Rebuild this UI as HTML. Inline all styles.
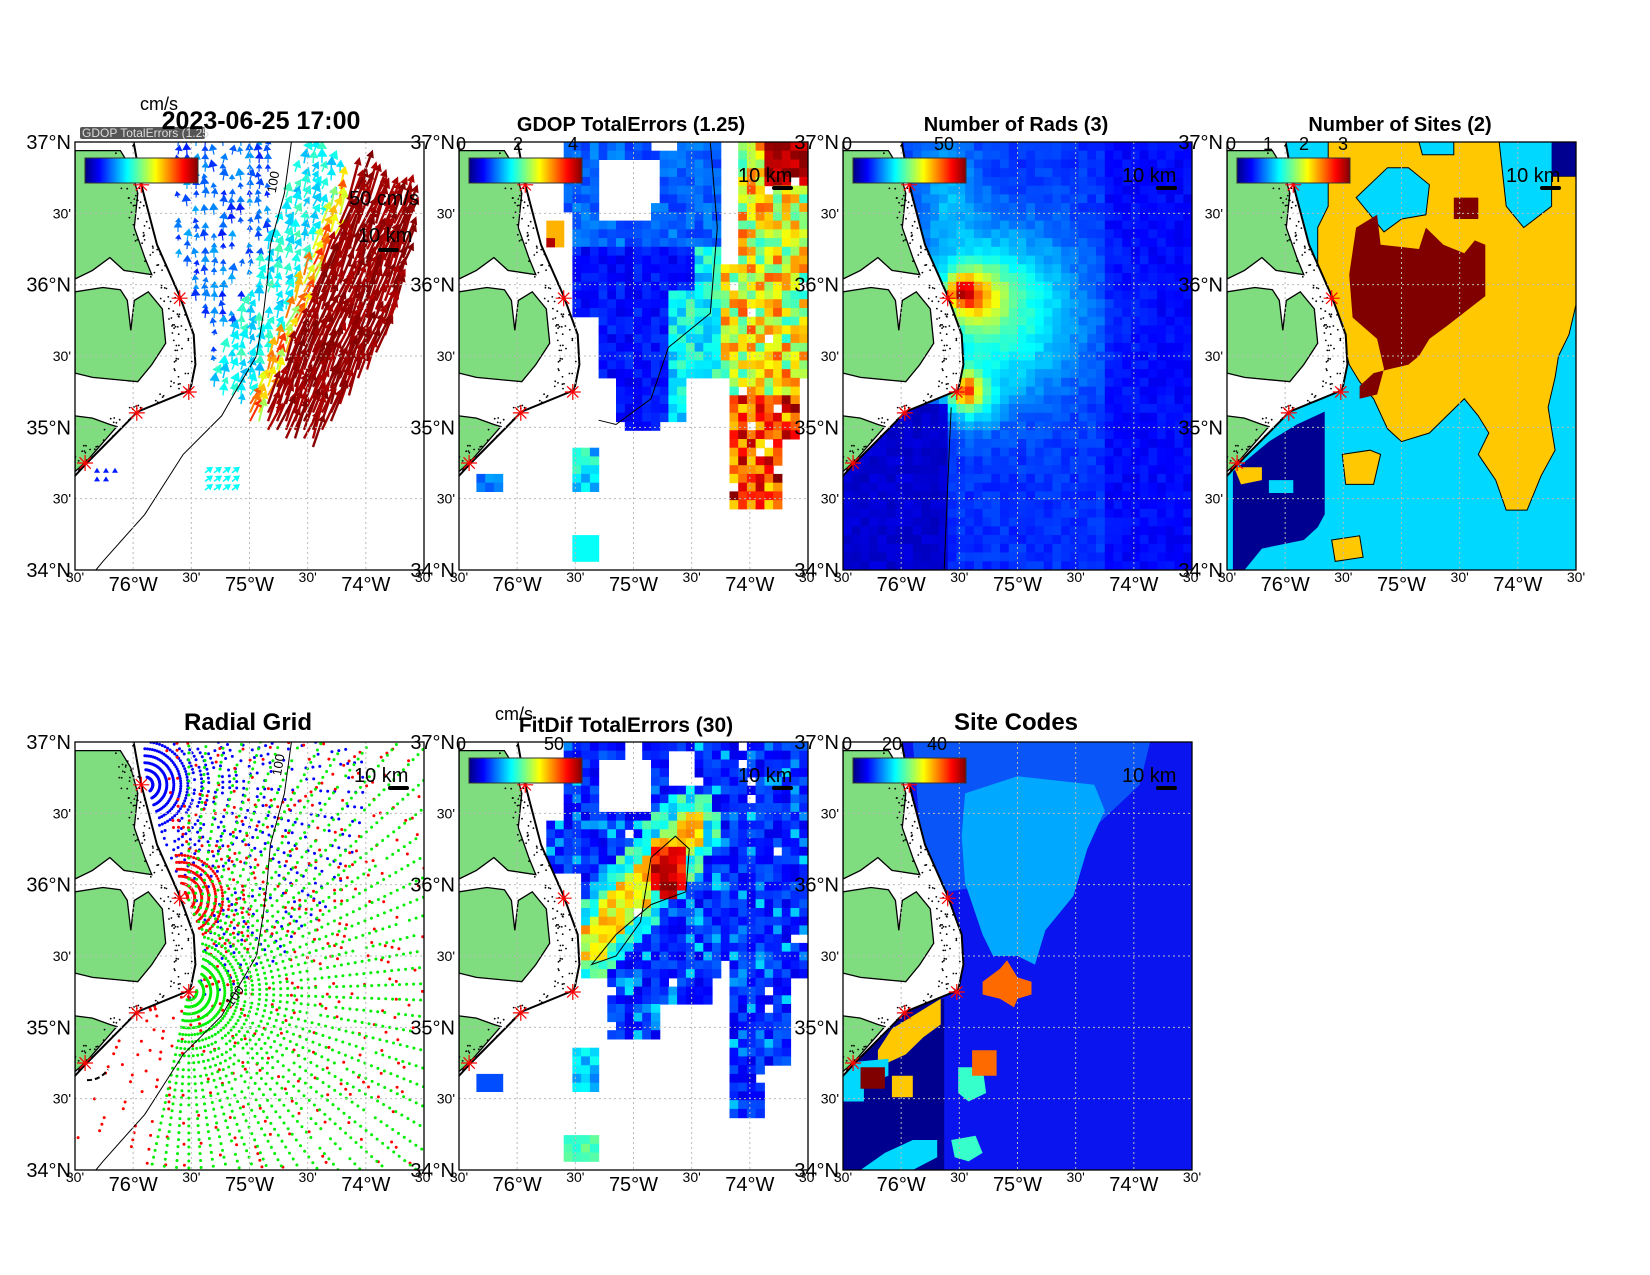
<!DOCTYPE html>
<html><head><meta charset="utf-8"><style>
html,body{margin:0;padding:0;background:#fff;width:1650px;height:1275px;overflow:hidden}
svg{position:absolute;left:0;top:0}
text{font-family:"Liberation Sans",sans-serif}
</style></head><body>
<svg id="s" width="1650" height="1275" viewBox="0 0 1650 1275" xmlns="http://www.w3.org/2000/svg"></svg>
<script>
const W=349,H=428;
const LEFTS=[75,459,843,1227],TOPS=[142,742];
let out=[];
function cl(v){return Math.max(0,Math.min(1,v));}
function jet(v){v=cl(v);const r=cl(1.5-Math.abs(4*v-3)),g=cl(1.5-Math.abs(4*v-2)),b=cl(1.5-Math.abs(4*v-1));return `rgb(${r*255|0},${g*255|0},${b*255|0})`;}
function rng(a){return function(){a|=0;a=a+0x6D2B79F5|0;let t=Math.imul(a^a>>>15,1|a);t=t+Math.imul(t^t>>>7,61|t)^t;return((t^t>>>14)>>>0)/4294967296;}}
const C=[[0.168,0],[0.19,0.10],[0.235,0.24],[0.30,0.36],[0.34,0.45],[0.345,0.52],[0.33,0.58],[0.18,0.63],[0.034,0.75],[0,0.78]];
function coastX(y){if(y>=0.78)return -1;for(let i=0;i<C.length-1;i++){const a=C[i],b=C[i+1];if(y>=a[1]&&y<=b[1]){const t=(y-a[1])/(b[1]-a[1]||1);return a[0]+t*(b[0]-a[0]);}}return 0;}
const LAND=[
[[0,0.02],[0.13,0.02],[0.16,0.06],[0.18,0.12],[0.17,0.2],[0.2,0.27],[0.22,0.31],[0.14,0.3],[0.1,0.27],[0.05,0.3],[0,0.32]],
[[0,0.35],[0.08,0.34],[0.13,0.345],[0.15,0.37],[0.16,0.44],[0.17,0.37],[0.21,0.35],[0.25,0.39],[0.26,0.47],[0.22,0.52],[0.18,0.56],[0.05,0.55],[0,0.54]],
[[0,0.64],[0.05,0.645],[0.1,0.66],[0.12,0.665],[0.034,0.745],[0,0.77]]];
const SHELF=[[0.62,0],[0.6,0.12],[0.56,0.24],[0.55,0.33],[0.54,0.40],[0.52,0.5],[0.455,0.59],[0.42,0.64],[0.31,0.73],[0.2,0.87],[0.08,0.98],[0.06,1]];
const STARS=[[0.19,0.10],[0.30,0.365],[0.326,0.584],[0.177,0.633],[0.029,0.75]];
function P(L,T,pts){return pts.map(p=>(L+p[0]*W).toFixed(1)+','+(T+p[1]*H).toFixed(1)).join(' ');}
function poly(L,T,pts,fill,stroke,sw){out.push(`<polygon points="${P(L,T,pts)}" fill="${fill}" stroke="${stroke||'none'}" stroke-width="${sw||1}"/>`);}
let clipId=0;
function heat(L,T,f,seed){const r=rng(seed);const nx=40,ny=49,cw=W/nx,ch=H/ny;for(let j=0;j<ny;j++)for(let i=0;i<nx;i++){const x=(i+0.5)/nx,y=(j+0.5)/ny;const v=f(x,y,r);if(v===null||v===undefined)continue;const c=typeof v==='string'?v:jet(v);out.push(`<rect x="${(L+i*cw).toFixed(1)}" y="${(T+j*ch).toFixed(1)}" width="${(cw+0.6).toFixed(1)}" height="${(ch+0.6).toFixed(1)}" fill="${c}"/>`);}}
function landAndFrame(L,T,opt){
  poly(L,T,[[0,0]].concat(C).concat([[0,0.78]]),'#fff');
  LAND.forEach(l=>poly(L,T,l,'#7fdc7f','#000',1.3));
  const r=rng(7);
  for(let k=0;k<160;k++){const y=r()*0.78;const x=coastX(y)-r()*0.06;out.push(`<circle cx="${(L+x*W).toFixed(1)}" cy="${(T+y*H).toFixed(1)}" r="0.9" fill="#000"/>`);}
  out.push(`<polyline points="${P(L,T,C)}" fill="none" stroke="#000" stroke-width="2"/>`);
  if(opt.shelf) out.push(`<polyline points="${P(L,T,SHELF)}" fill="none" stroke="#000" stroke-width="1"/>`);
}
function grid(L,T){for(let k=1;k<6;k++){const x=L+k*W/6,y=T+k*H/6;out.push(`<line x1="${x}" y1="${T}" x2="${x}" y2="${T+H}" stroke="#bbb" stroke-width="1" stroke-dasharray="2,3"/>`);out.push(`<line x1="${L}" y1="${y}" x2="${L+W}" y2="${y}" stroke="#bbb" stroke-width="1" stroke-dasharray="2,3"/>`);}}
function stars(L,T){STARS.forEach(s=>{const x=L+s[0]*W,y=T+s[1]*H;let d='';for(let a=0;a<4;a++){const an=a*Math.PI/4;d+=`M${(x-8*Math.cos(an)).toFixed(1)},${(y-8*Math.sin(an)).toFixed(1)}L${(x+8*Math.cos(an)).toFixed(1)},${(y+8*Math.sin(an)).toFixed(1)}`;}out.push(`<path d="${d}" stroke="#f00" stroke-width="1.2"/>`);});}
function frame(L,T){out.push(`<rect x="${L}" y="${T}" width="${W}" height="${H}" fill="none" stroke="#000" stroke-width="1.3"/>`);}
function colorbar(L,T){out.push(`<rect x="${L+10}" y="${T+16}" width="113" height="25" fill="url(#jetg)" stroke="#333" stroke-width="1"/>`);}
function labels(L,T){
  const lat=['37°N',"30'",'36°N',"30'",'35°N',"30'",'34°N'];
  lat.forEach((s,k)=>{const y=T+k*H/6;const big=s.includes('N');out.push(`<text x="${L-4}" y="${y+(big?7:5)}" text-anchor="end" font-size="${big?20:14}">${s}</text>`);});
  const lon=["30'",'76°W',"30'",'75°W',"30'",'74°W',"30'"];
  lon.forEach((s,k)=>{const x=L+k*W/6;const big=s.includes('W');out.push(`<text x="${x}" y="${T+H+(big?21:12)}" text-anchor="middle" font-size="${big?20:14}">${s}</text>`);});
}
function km(L,T){out.push(`<text x="${L+W-70}" y="${T+40}" font-size="20">10 km</text>`);out.push(`<line x1="${L+W-34}" y1="${T+46}" x2="${L+W-17}" y2="${T+46}" stroke="#000" stroke-width="4" stroke-linecap="round"/>`);}
function cbt(L,T,arr){arr.forEach(a=>out.push(`<text x="${L+a[0]}" y="${T+8}" text-anchor="middle" font-size="18">${a[1]}</text>`));}
function title(x,y,s,fs){out.push(`<text x="${x}" y="${y}" text-anchor="middle" font-size="${fs}" font-weight="bold">${s}</text>`);}
function clipStart(L,T){clipId++;out.push(`<clipPath id="c${clipId}"><rect x="${L}" y="${T}" width="${W}" height="${H}"/></clipPath><g clip-path="url(#c${clipId})">`);}
function segDist(x,y,a,b){const dx=b[0]-a[0],dy=b[1]-a[1];let t=((x-a[0])*dx+(y-a[1])*dy)/(dx*dx+dy*dy);t=cl(t);const px=a[0]+t*dx-x,py=a[1]+t*dy-y;return Math.sqrt(px*px+py*py);}

out.push(`<defs><linearGradient id="jetg" x1="0" x2="1" y1="0" y2="0">${[0,0.125,0.375,0.625,0.875,1].map(v=>`<stop offset="${v}" stop-color="${jet(v)}"/>`).join('')}</linearGradient></defs>`);

/* ---------- Panel 1: vectors ---------- */
(function(){const L=LEFTS[0],T=TOPS[0];clipStart(L,T);
 const r=rng(11);
 function arrow(x,y,dx,dy,col,w,hlMax,hwr){const len=Math.hypot(dx,dy);const ux=dx/len,uy=dy/len;const hl=Math.max(5,Math.min(hlMax,len*0.6)),hw=hl*hwr;const ex=x+dx,ey=y+dy;const bx=ex-ux*hl,by=ey-uy*hl;
  out.push(`<path d="M${x.toFixed(1)},${y.toFixed(1)}L${bx.toFixed(1)},${by.toFixed(1)}" stroke="${col}" stroke-width="${w}"/><polygon points="${ex.toFixed(1)},${ey.toFixed(1)} ${(bx-uy*hw).toFixed(1)},${(by+ux*hw).toFixed(1)} ${(bx+uy*hw).toFixed(1)},${(by-ux*hw).toFixed(1)}" fill="${col}"/>`);}
 const A=[188,272],ux=0.369,uy=-0.929,nx_=0.929,ny_=0.369;
 const list=[];
 for(let py=4;py<H;py+=8.6)for(let px=4;px<W;px+=9){
  const nx=px/W,ny=py/H;if(nx<coastX(ny)+0.04)continue;
  const qx=px-A[0],qy=py-A[1];const t=(qx*ux+qy*uy)/240,d=qx*nx_+qy*ny_;
  const dmax=60+25*Math.sin(Math.PI*cl(t));
  const x=L+px,y=T+py;
  if(t>-0.06&&t<1.02&&d>=0&&d<dmax){const ln=30+r()*16;const a=Math.atan2(uy,ux)+(r()-0.5)*0.25;list.push([0,x,y,Math.cos(a)*ln,Math.sin(a)*ln,jet(0.95+r()*0.05),2.4,8,0.5]);}
  else if(t>-0.06&&t<1.0&&d>=-16&&d<0){const ln=18+r()*8;const a=Math.atan2(uy,ux)+(r()-0.5)*0.4;list.push([1,x,y,Math.cos(a)*ln,Math.sin(a)*ln,jet(0.5+r()*0.35),2,8,0.6]);}
  else if(t>0.0&&t<1.1&&d>=-60&&d<-16&&ny<0.66){if(r()<0.1)continue;const ln=11+r()*6;const a=-Math.PI/2+0.3+(r()-0.5)*0.6;list.push([2,x,y,Math.cos(a)*ln,Math.sin(a)*ln,jet(0.3+r()*0.15),1.5,9,0.6]);}
  else if(nx>0.28&&nx<0.56&&ny<0.52){if(r()<0.2)continue;const ln=6+r()*7;const a=-Math.PI/2+(r()-0.5)*0.5;list.push([3,x,y,Math.cos(a)*ln,Math.sin(a)*ln,jet(0.15+r()*0.14),1.2,8,0.65]);}
  else if(nx>0.36&&nx<0.45&&ny>0.76&&ny<0.83){list.push([2,x,y,8,-6,jet(0.38),1.5,7,0.6]);}
  else if(nx>0.05&&nx<0.13&&ny>0.77&&ny<0.81){if(r()<0.4)continue;list.push([3,x,y,0,-5,jet(0.15),1,5,0.6]);}
 }
 list.sort((a,b)=>b[0]-a[0]).forEach(a=>arrow(a[1],a[2],a[3],a[4],a[5],a[6],a[7],a[8]));
 landAndFrame(L,T,{shelf:true});grid(L,T);stars(L,T);
 out.push(`<text transform="translate(${L+0.575*W},${T+0.12*H}) rotate(-80)" font-size="13">100</text>`);
 out.push('</g>');frame(L,T);colorbar(L,T);labels(L,T);
 out.push(`<rect x="${L+5}" y="${T-15}" width="125" height="12" fill="#555" rx="2"/><text x="${L+7}" y="${T-5}" font-size="12" fill="#ddd">GDOP TotalErrors (1.25</text>`);
 out.push(`<text x="${L+274}" y="${T+63}" font-size="20">50 cm/s</text>`);
 out.push(`<text x="${L+283}" y="${T+100}" font-size="20">10 km</text><line x1="${L+305}" y1="${T+108}" x2="${L+322}" y2="${T+108}" stroke="#000" stroke-width="4" stroke-linecap="round"/>`);
 out.push(`<text x="${L+65}" y="${T-32}" font-size="18">cm/s</text>`);
 title(L+186,T-13,'2023-06-25 17:00',25);
})();

/* ---------- Panel 2: GDOP ---------- */
(function(){const L=LEFTS[1],T=TOPS[0];clipStart(L,T);
 heat(L,T,function(x,y,r){
  const rr=r();
  let cov=false;
  const left = y<0.17?0.29:(y<0.4?0.33:(y<0.55?0.4:0.44));
  if(y<0.55&&x>left) cov=true;
  if(y>=0.55&&y<0.66&&x>0.44&&x<0.66) cov=true;
  if(y>=0.55&&y<0.86&&x>0.78&&x<(y<0.7?0.97:0.92)) cov=true;
  if(y>=0.64&&y<0.68&&x>0.48&&x<0.58) cov=true;
  if(x>0.39&&x<0.58&&y>0.05&&y<0.18&&!(x>0.54&&y>0.14)) cov=false;
  if(x>0.55&&x<0.62&&y<0.03)cov=false;
  if(x>0.74&&x<0.79&&y<0.28)cov=false;
  if(x>0.24&&x<0.29&&y>0.18&&y<0.25) return rr<0.5?0.95:0.7;
  if(x>0.05&&x<0.13&&y>0.77&&y<0.82) return 0.2+rr*0.1;
  if(x>0.33&&x<0.41&&y>0.72&&y<0.81) return 0.25+rr*0.2;
  if(x>0.33&&x<0.4&&y>0.92&&y<0.98) return 0.38;
  if(!cov)return null;
  if(x>0.76){ if(rr<0.04)return null; if(y>0.6)return 0.65+r()*0.35; if(y<0.1&&x>0.88)return 0.9+r()*0.1; return 0.4+r()*0.4;}
  if((x>0.6&&y>0.35)||(x>0.67&&y>0.25)) return 0.28+rr*0.2;
  if(y<0.25) return 0.17+rr*0.1;
  return 0.1+rr*0.08;
 },21);
 landAndFrame(L,T,{});grid(L,T);stars(L,T);
 out.push(`<polyline points="${P(L,T,[[0.72,0],[0.74,0.2],[0.72,0.4],[0.6,0.48],[0.55,0.6],[0.45,0.66],[0.4,0.65]])}" fill="none" stroke="#000" stroke-width="1"/>`);
 out.push('</g>');frame(L,T);colorbar(L,T);labels(L,T);km(L,T);cbt(L,T,[[2,'0'],[59,'2'],[114,'4']]);
 title(L+172,T-11,'GDOP TotalErrors (1.25)',20);
})();

/* ---------- Panel 3: Number of Rads ---------- */
(function(){const L=LEFTS[2],T=TOPS[0];clipStart(L,T);
 heat(L,T,function(x,y,r){
  if(x<0.3&&y>0.62) return 0.06+r()*0.04;
  const g=(cx,cy,sx,sy)=>Math.exp(-((x-cx)**2/(2*sx*sx)+(y-cy)**2/(2*sy*sy)));
  let v=0.17+0.26*g(0.45,0.4,0.16,0.14)+0.3*g(0.38,0.36,0.06,0.05)+0.35*g(0.34,0.35,0.03,0.025)+0.45*g(0.35,0.58,0.03,0.03)+0.15*g(0.38,0.6,0.05,0.05)+0.12*g(0.3,0.1,0.06,0.1);
  if(x>0.75) v-=0.04;
  return v+(r()-0.5)*0.05;
 },31);
 landAndFrame(L,T,{});grid(L,T);stars(L,T);
 out.push(`<polyline points="${P(L,T,[[0.31,0.62],[0.3,0.8],[0.29,1]])}" fill="none" stroke="#000" stroke-width="1"/>`);
 out.push('</g>');frame(L,T);colorbar(L,T);labels(L,T);km(L,T);cbt(L,T,[[4,'0'],[101,'50']]);
 title(L+173,T-11,'Number of Rads (3)',20);
})();

/* ---------- Panel 4: Number of Sites ---------- */
(function(){const L=LEFTS[3],T=TOPS[0];clipStart(L,T);
 const CY='#00d8ff',GO='#ffc800',NV='#000090',DR='#800000';
 out.push(`<rect x="${L}" y="${T}" width="${W}" height="${H}" fill="${CY}"/>`);
 poly(L,T,[[0.017,0.77],[0.12,0.7],[0.2,0.66],[0.28,0.63],[0.28,0.87],[0.26,0.9],[0.22,0.93],[0.1,0.95],[0.05,1],[0.017,1]],NV);
 poly(L,T,[[0.05,1],[0.1,0.96],[0.2,0.95],[0.25,0.97],[0.27,1]],CY);
 poly(L,T,[[0.12,0.79],[0.19,0.79],[0.19,0.82],[0.12,0.82]],CY);
 const gold=[[0.29,0],[0.55,0],[0.56,0.03],[0.65,0.03],[0.65,0],[0.78,0],[0.8,0.15],[0.85,0.2],[0.93,0.15],[0.93,0.08],[1,0.08],[1,0.38],[0.98,0.45],[0.95,0.5],[0.94,0.55],[0.92,0.62],[0.94,0.72],[0.9,0.78],[0.86,0.86],[0.8,0.86],[0.77,0.79],[0.72,0.73],[0.75,0.68],[0.72,0.64],[0.68,0.6],[0.58,0.68],[0.5,0.7],[0.46,0.67],[0.42,0.6],[0.38,0.56],[0.35,0.52],[0.33,0.45],[0.28,0.38],[0.26,0.3],[0.26,0.2],[0.29,0.15]];
 poly(L,T,gold,GO,'#000',1);
 poly(L,T,[[0.37,0.13],[0.46,0.06],[0.52,0.06],[0.58,0.1],[0.57,0.17],[0.5,0.18],[0.45,0.21]],CY,'#000',1);
 poly(L,T,[[0.33,0.73],[0.41,0.72],[0.44,0.73],[0.42,0.8],[0.34,0.8]],GO,'#000',1);
 poly(L,T,[[0.3,0.93],[0.38,0.92],[0.39,0.97],[0.31,0.98]],GO,'#000',1);
 poly(L,T,[[0.02,0.76],[0.1,0.76],[0.1,0.79],[0.04,0.8]],GO);
 poly(L,T,[[0.93,0],[1,0],[1,0.08],[0.93,0.08]],NV);
 poly(L,T,[[0.35,0.31],[0.37,0.2],[0.43,0.17],[0.44,0.24],[0.55,0.25],[0.57,0.2],[0.62,0.24],[0.68,0.26],[0.71,0.23],[0.74,0.24],[0.74,0.36],[0.63,0.43],[0.58,0.46],[0.55,0.5],[0.52,0.52],[0.47,0.53],[0.42,0.54],[0.38,0.57],[0.38,0.6],[0.43,0.59],[0.45,0.53],[0.43,0.46],[0.36,0.41]],DR);
 poly(L,T,[[0.65,0.13],[0.72,0.13],[0.72,0.18],[0.65,0.18]],DR);
 landAndFrame(L,T,{});grid(L,T);stars(L,T);
 out.push('</g>');frame(L,T);colorbar(L,T);labels(L,T);km(L,T);cbt(L,T,[[4,'0'],[41,'1'],[77,'2'],[116,'3']]);
 title(L+173,T-11,'Number of Sites (2)',20);
})();

/* ---------- Radial Grid ---------- */
(function(){const L=LEFTS[0],T=TOPS[1];clipStart(L,T);
 const r=rng(41);
 function fan(s,col,a0,a1,rmax,keep,rstep){const cx=s[0]*W,cy=s[1]*H;for(let a=a0;a<=a1;a+=4){const an=a*Math.PI/180;for(let rr=8;rr<rmax;rr+=rstep){const px=cx+rr*Math.cos(an),py=cy+rr*Math.sin(an);if(px<0||px>W||py<0||py>H)continue;const nx=px/W,ny=py/H;if(nx<coastX(ny)+0.02)continue;if(rr>45&&r()>keep)continue;out.push(`<circle cx="${(L+px).toFixed(1)}" cy="${(T+py).toFixed(1)}" r="1.5" fill="${col}"/>`);}}}
 fan([0.2,0.10],'#0000ff',-90,115,220,0.6,7);
 fan([0.3,0.365],'#ff0000',-95,140,420,0.3,7);
 fan([0.326,0.584],'#00ee00',-90,105,520,0.95,7);
 for(let a=-60;a<=-10;a+=8){const an=a*Math.PI/180;for(let rr=14;rr<24;rr+=5){out.push(`<circle cx="${(L+0.177*W+rr*Math.cos(an)).toFixed(1)}" cy="${(T+0.633*H+rr*Math.sin(an)).toFixed(1)}" r="1.5" fill="#f00"/>`);}}
 out.push(`<path d="M${L+12},${T+0.79*H} A24,24 0 0 0 ${L+33},${T+0.765*H}" fill="none" stroke="#000" stroke-width="2" stroke-dasharray="5,3"/>`);
 landAndFrame(L,T,{shelf:true});grid(L,T);stars(L,T);
 out.push(`<text transform="translate(${L+0.59*W},${T+0.08*H}) rotate(-80)" font-size="13">100</text>`);
 out.push(`<text transform="translate(${L+0.45*W},${T+0.62*H}) rotate(-55)" font-size="13">100</text>`);
 out.push('</g>');frame(L,T);labels(L,T);km(L,T);
 title(L+173,T-12,'Radial Grid',24);
})();

/* ---------- FitDif ---------- */
(function(){const L=LEFTS[1],T=TOPS[1];clipStart(L,T);
 heat(L,T,function(x,y,r){
  const rr=r();
  let cov=false;
  const left=y<0.18?0.3:(y<0.3?0.24:(y<0.55?0.34:0.43));
  if(y<0.56&&x>left)cov=true;
  if(y>=0.56&&y<0.7&&x>0.43&&x<(y<0.62?0.72:0.58))cov=true;
  if(y>=0.56&&y<0.87&&x>0.78&&x<(y<0.75?0.95:0.88))cov=true;
  if(x>0.39&&x<0.56&&y>0.05&&y<0.17)cov=false;
  if(x>0.47&&x<0.53&&y<0.05)cov=false;
  if(x>0.59&&x<0.68&&y>0.03&&y<0.1)cov=false;
  if(x>0.05&&x<0.13&&y>0.77&&y<0.82)return 0.2;
  if(x>0.33&&x<0.41&&y>0.72&&y<0.82)return 0.25+rr*0.15;
  if(x>0.31&&x<0.4&&y>0.92&&y<0.98)return 0.4+rr*0.1;
  if(!cov)return null;
  if(rr<0.02)return null;
  const d=segDist(x,y,[0.38,0.47],[0.66,0.2]);
  const dc=Math.hypot(x-0.6,y-0.3);
  if(dc<0.06)return 0.8+r()*0.2;
  if(d<0.045)return 0.5+r()*0.25;
  if(d<0.09)return 0.3+r()*0.2;
  if(segDist(x,y,[0.35,0.55],[0.38,0.65])<0.04)return 0.35+r()*0.25;
  return r()<0.12?0.25+r()*0.1:0.1+r()*0.12;
 },51);
 landAndFrame(L,T,{});grid(L,T);stars(L,T);
 out.push(`<polyline points="${P(L,T,[[0.55,0.27],[0.62,0.22],[0.66,0.25],[0.65,0.35],[0.55,0.38],[0.45,0.45],[0.38,0.52],[0.45,0.5],[0.52,0.42],[0.55,0.27]])}" fill="none" stroke="#000" stroke-width="1"/>`);
 out.push('</g>');frame(L,T);colorbar(L,T);labels(L,T);km(L,T);cbt(L,T,[[2,'0'],[95,'50']]);
 out.push(`<text x="${L+36}" y="${T-22}" font-size="18">cm/s</text>`);
 title(L+167,T-10,'FitDif TotalErrors (30)',21);
})();

/* ---------- Site Codes ---------- */
(function(){const L=LEFTS[2],T=TOPS[1];clipStart(L,T);
 const B='#0a14ef',LB='#0a55f8',SB='#00a8ff',NV='#00008f',OR='#ff6a00',GO='#ffc800',DR='#800000',AQ='#36ffcc',CY='#00d8ff';
 out.push(`<rect x="${L}" y="${T}" width="${W}" height="${H}" fill="${B}"/>`);
 poly(L,T,[[0.2,0],[0.88,0],[0.85,0.1],[0.72,0.2],[0.6,0.27],[0.45,0.33],[0.3,0.35],[0.25,0.3],[0.22,0.2]],LB);
 poly(L,T,[[0.35,0.12],[0.5,0.08],[0.72,0.1],[0.75,0.16],[0.7,0.25],[0.66,0.36],[0.58,0.44],[0.55,0.52],[0.5,0.5],[0.43,0.5],[0.4,0.45],[0.35,0.33],[0.34,0.22]],SB);
 poly(L,T,[[0,0.6],[0.29,0.6],[0.29,1],[0,1]],NV);
 poly(L,T,[[0.1,0.72],[0.14,0.67],[0.2,0.64],[0.28,0.6],[0.28,0.66],[0.23,0.69],[0.18,0.73],[0.1,0.76]],GO);
 poly(L,T,[[0,0.75],[0.13,0.74],[0.13,0.78],[0.06,0.8],[0.06,0.84],[0,0.84]],CY);
 poly(L,T,[[0.05,0.76],[0.12,0.76],[0.12,0.81],[0.05,0.81]],DR);
 poly(L,T,[[0.14,0.78],[0.2,0.78],[0.2,0.83],[0.14,0.83]],GO);
 poly(L,T,[[0.05,1],[0.12,0.96],[0.2,0.93],[0.27,0.93],[0.27,0.97],[0.2,1]],CY);
 poly(L,T,[[0.33,0.76],[0.4,0.76],[0.41,0.82],[0.36,0.84],[0.33,0.82]],AQ);
 poly(L,T,[[0.31,0.93],[0.38,0.92],[0.4,0.96],[0.36,0.98],[0.32,0.97]],AQ);
 poly(L,T,[[0.4,0.56],[0.45,0.53],[0.47,0.51],[0.5,0.55],[0.54,0.56],[0.54,0.59],[0.5,0.6],[0.49,0.62],[0.45,0.6],[0.4,0.59]],OR);
 poly(L,T,[[0.37,0.72],[0.44,0.72],[0.44,0.78],[0.37,0.78]],OR);
 landAndFrame(L,T,{});grid(L,T);stars(L,T);
 out.push('</g>');frame(L,T);colorbar(L,T);labels(L,T);km(L,T);cbt(L,T,[[4,'0'],[49,'20'],[94,'40']]);
 title(L+173,T-12,'Site Codes',24);
})();

document.getElementById('s').innerHTML=out.join('');
</script>
</body></html>
